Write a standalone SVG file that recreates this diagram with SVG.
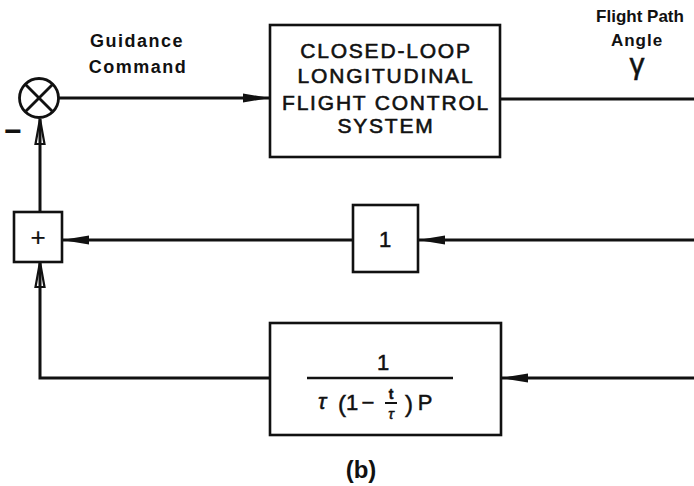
<svg xmlns="http://www.w3.org/2000/svg" width="694" height="486" viewBox="0 0 694 486">
  <style>
    .box { fill: none; stroke: #111; stroke-width: 2.6; }
    .wire { fill: none; stroke: #111; stroke-width: 3; }
    .lbl { font-family: "Liberation Sans", Arial, sans-serif; fill: #111; }
    .boxtxt { font-family: "Liberation Sans", Arial, sans-serif; font-size: 21px; letter-spacing: 1.8px; fill: #111; stroke: #111; stroke-width: 0.6px; text-anchor: middle; }
    .small { font-family: "Liberation Sans", Arial, sans-serif; font-size: 18px; font-weight: bold; letter-spacing: 1.5px; fill: #111; text-anchor: middle; }
    .out { font-family: "Liberation Sans", Arial, sans-serif; font-size: 17px; font-weight: bold; fill: #111; text-anchor: middle; }
    .math { font-family: "Liberation Sans", Arial, sans-serif; fill: #111; stroke: #111; stroke-width: 0.5px; }
  </style>
  <defs>
    <marker id="arrow" markerUnits="userSpaceOnUse" markerWidth="30" markerHeight="12" viewBox="0 -6 28 12" refX="27" refY="0" orient="auto">
      <path d="M0,-4.5 L27,0 L0,4.5 Z" fill="#111"/>
    </marker>
    <marker id="open" markerUnits="userSpaceOnUse" markerWidth="30" markerHeight="14" viewBox="-1 -7 30 14" refX="26" refY="0" orient="auto">
      <path d="M26,0 L1,-4.5 L1,4.5 Z" fill="none" stroke="#111" stroke-width="2.2" stroke-linejoin="miter"/>
    </marker>
  </defs>

  <rect width="694" height="486" fill="#fff"/>

  <!-- connectors -->
  <g id="connectors">
    <line class="wire" x1="59" y1="98" x2="270" y2="98" marker-end="url(#arrow)"/>
    <line class="wire" x1="500" y1="99" x2="694" y2="99"/>
    <line class="wire" x1="694" y1="240" x2="418" y2="240" marker-end="url(#arrow)"/>
    <line class="wire" x1="353" y1="240" x2="62" y2="240" marker-end="url(#arrow)"/>
    <line class="wire" x1="694" y1="378" x2="501" y2="378" marker-end="url(#arrow)"/>
    <polyline class="wire" points="270,378 40,378 40,262" marker-end="url(#open)"/>
    <line class="wire" x1="40" y1="212" x2="40" y2="119" marker-end="url(#open)"/>
  </g>

  <!-- summing junction -->
  <g id="sum">
    <circle cx="39" cy="98" r="19.5" fill="none" stroke="#111" stroke-width="2.8"/>
    <line x1="25" y1="84" x2="53" y2="112" stroke="#111" stroke-width="2.8"/>
    <line x1="53" y1="84" x2="25" y2="112" stroke="#111" stroke-width="2.8"/>
    <text class="lbl" x="13" y="141" font-size="30" font-weight="bold" text-anchor="middle">−</text>
  </g>

  <!-- input label -->
  <g id="guidance-label">
    <text class="small" x="137" y="47">Guidance</text>
    <text class="small" x="138" y="73">Command</text>
  </g>

  <!-- flight control system -->
  <g id="fcs">
    <rect class="box" x="270" y="25" width="230" height="132"/>
    <text class="boxtxt" x="386" y="58">CLOSED-LOOP</text>
    <text class="boxtxt" x="386" y="83">LONGITUDINAL</text>
    <text class="boxtxt" x="386" y="110">FLIGHT CONTROL</text>
    <text class="boxtxt" x="386" y="133">SYSTEM</text>
  </g>

  <!-- output label -->
  <g id="gamma-label">
    <text class="out" x="640" y="22">Flight Path</text>
    <text class="out" x="637" y="46" style="letter-spacing:1px">Angle</text>
    <text class="math" x="637" y="74" font-size="30" text-anchor="middle">γ</text>
  </g>

  <!-- unity gain -->
  <g id="unity">
    <rect class="box" x="353" y="205" width="65" height="67"/>
    <text class="math" x="385" y="247" font-size="22" text-anchor="middle">1</text>
  </g>

  <!-- adder -->
  <g id="adder">
    <rect class="box" x="14" y="212" width="48" height="50"/>
    <text class="math" x="38" y="246" font-size="26" style="stroke-width:0.2px" text-anchor="middle">+</text>
  </g>

  <!-- integrator block -->
  <g id="integrator">
    <rect class="box" x="270" y="323" width="231" height="112"/>
    <text class="math" x="383" y="370" font-size="22" text-anchor="middle">1</text>
    <line x1="307" y1="378" x2="453" y2="378" stroke="#111" stroke-width="2.6"/>
    <text class="math" x="322" y="409" font-size="22" font-style="italic" text-anchor="middle">τ</text>
    <text class="math" x="342" y="412" font-size="24" text-anchor="middle">(</text>
    <text class="math" x="352" y="410" font-size="22" text-anchor="middle">1</text>
    <text class="math" x="368" y="410" font-size="22" text-anchor="middle">−</text>
    <text class="math" x="391" y="399" font-size="14" font-weight="bold" text-anchor="middle">t</text>
    <line x1="385" y1="403" x2="397" y2="403" stroke="#111" stroke-width="2"/>
    <text class="math" x="391" y="419" font-size="15" font-style="italic" text-anchor="middle">τ</text>
    <text class="math" x="409" y="412" font-size="24" text-anchor="middle">)</text>
    <text class="math" x="425" y="410" font-size="22" text-anchor="middle">P</text>
  </g>

  <!-- caption -->
  <text class="lbl" x="361" y="478" font-size="24" font-weight="bold" text-anchor="middle">(b)</text>
</svg>
